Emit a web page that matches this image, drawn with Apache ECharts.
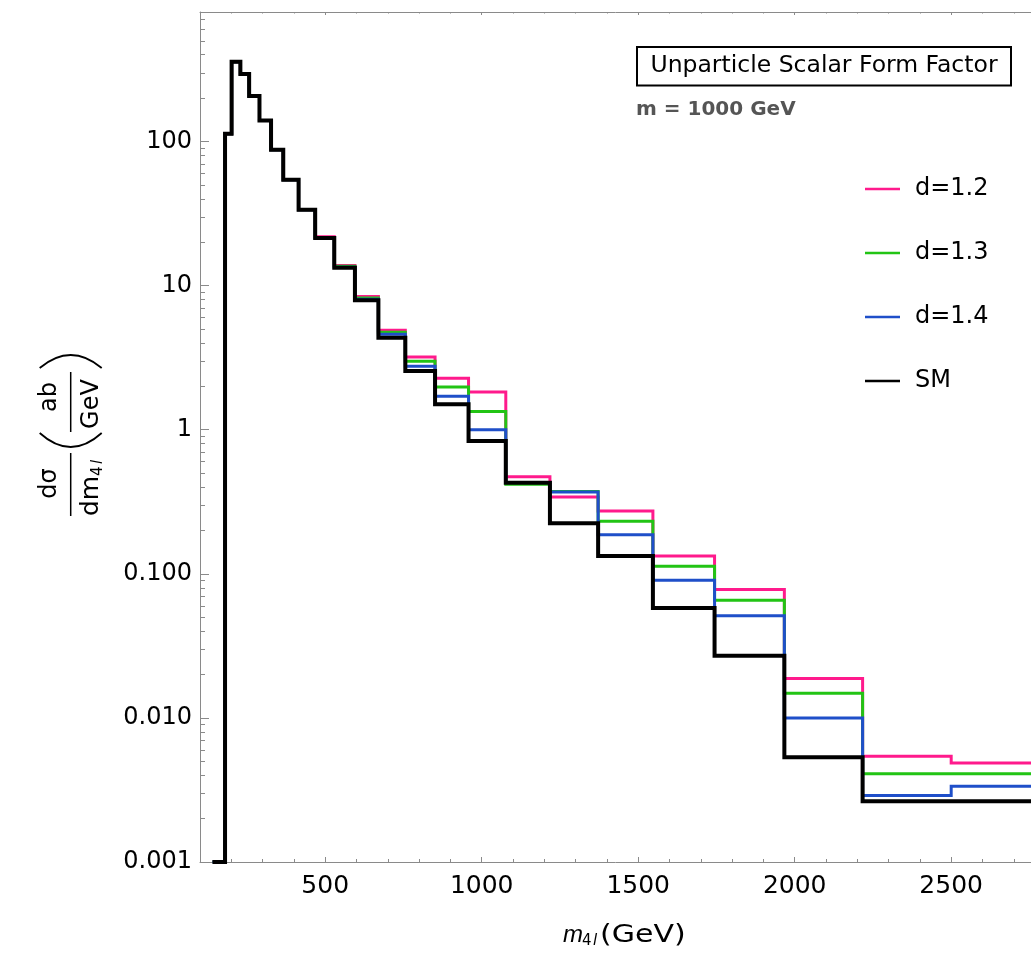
<!DOCTYPE html>
<html>
<head>
<meta charset="utf-8">
<script src="https://cdn.jsdelivr.net/npm/echarts@6/dist/echarts.min.js"></script>
<style>
html,body{margin:0;padding:0;background:#fff;}
#chart{width:1031px;height:957px;}
</style>
</head>
<body>
<div id="chart"></div>
<script>
// ---- data ----
const binEdges = [140, 180, 201, 229, 257, 290, 327, 366, 415, 468, 529, 595, 670, 756, 851, 958, 1077, 1218, 1372, 1547, 1744, 1967, 2217, 2500, 2820];
const smValues  = [0.001, 113, 357, 294, 207, 140, 87.5, 54.3, 33.6, 21.4, 13.3, 7.9, 4.34, 2.55, 1.50, 0.834, 0.428, 0.224, 0.133, 0.058, 0.027, 0.00533, 0.00264, 0.00264];
const d12Values = [0.001, 113, 357, 294, 207, 140, 87.5, 54.3, 33.6, 21.8, 13.8, 8.4, 4.9, 3.19, 2.28, 1.83, 0.472, 0.341, 0.273, 0.133, 0.0778, 0.0188, 0.00542, 0.00486];
const d13Values = [0.001, 113, 357, 294, 207, 140, 87.5, 54.3, 33.6, 21.6, 13.6, 8.2, 4.75, 2.98, 1.98, 1.34, 0.418, 0.372, 0.232, 0.113, 0.0656, 0.0148, 0.0041, 0.0041];
const d14Values = [0.001, 113, 357, 294, 207, 140, 87.5, 54.3, 33.6, 21.4, 13.4, 8.05, 4.6, 2.76, 1.71, 1.0, 0.43, 0.370, 0.187, 0.0903, 0.0511, 0.00998, 0.00289, 0.00336];
const seriesNames = ['d=1.2', 'd=1.3', 'd=1.4', 'SM'];
const xTickValues = [500, 1000, 1500, 2000, 2500];
const xTickLabels = ['500', '1000', '1500', '2000', '2500'];
const xMinorValues = [200, 300, 400, 600, 700, 800, 900, 1100, 1200, 1300, 1400, 1600, 1700, 1800, 1900, 2100, 2200, 2300, 2400, 2600, 2700];
const yTickValues = [0.001, 0.01, 0.1, 1, 10, 100];
const yTickLabels = ['0.001', '0.010', '0.100', '1', '10', '100'];
const yMinorValues = [];
[0.001, 0.01, 0.1, 1, 10, 100].forEach(function (p) { for (let k = 2; k <= 9; k++) yMinorValues.push(+(p * k).toPrecision(3)); });

// ---- build step data ----
function stepData(vals) {
  const out = [];
  for (let i = 0; i < vals.length; i++) out.push([binEdges[i], vals[i]]);
  out.push([binEdges[vals.length], vals[vals.length - 1]]);
  return out;
}

const FONT = 'DejaVu Sans';
const axisColor = '#8a8a8a';
const colors = ['#ff1a8c', '#22c414', '#1f4fc9', '#000000'];
const XMIN = 100, XMAX = 2755, YMIN = 0.001, YMAX = 792;

const chart = echarts.init(document.getElementById('chart'), null, {renderer: 'canvas'});

function xAxisDef(pos, major, showLine) {
  return {
    type: 'value', min: XMIN, max: XMAX, position: pos,
    axisLine: {show: showLine, onZero: false, lineStyle: {color: axisColor, width: 1}},
    axisTick: {show: true, inside: true, length: major ? (pos === 'top' ? 3 : 5) : (pos === 'top' ? 1.5 : 3),
      customValues: major ? xTickValues : xMinorValues, lineStyle: {color: axisColor, width: 1}},
    axisLabel: {show: pos === 'bottom' && major, customValues: xTickValues, margin: 12,
      fontSize: 25, fontFamily: FONT, color: '#000',
      formatter: function (v) { const i = xTickValues.indexOf(Math.round(v)); return i >= 0 ? xTickLabels[i] : ''; }},
    splitLine: {show: false}
  };
}

function yAxisDef(major) {
  return {
    type: 'log', logBase: 10, min: YMIN, max: YMAX, position: 'left',
    axisLine: {show: major, onZero: false, lineStyle: {color: axisColor, width: 1}},
    axisTick: {show: true, inside: true, length: major ? 9 : 5,
      customValues: major ? yTickValues : yMinorValues, lineStyle: {color: axisColor, width: 1}},
    axisLabel: {show: major, customValues: yTickValues, margin: 8, fontSize: 24, fontFamily: FONT, color: '#000',
      formatter: function (v) { const k = Math.round(Math.log10(v)) + 3; return yTickLabels[k] || ''; }},
    splitLine: {show: false}, minorTick: {show: false}
  };
}

const allValues = [d12Values, d13Values, d14Values, smValues];
const series = allValues.map(function (vals, i) {
  return {
    name: seriesNames[i], type: 'line', step: 'end', xAxisIndex: 0, yAxisIndex: 0,
    data: stepData(vals), symbol: 'none', clip: true,
    lineStyle: {color: colors[i], width: i === 3 ? 4 : 3, join: 'miter', cap: 'butt'},
    itemStyle: {color: colors[i]}, z: 2 + i
  };
});

const option = {
  animation: false,
  backgroundColor: '#fff',
  grid: {left: 200, right: 0, top: 12, bottom: 95},
  xAxis: [xAxisDef('bottom', true, true), xAxisDef('bottom', false, false), xAxisDef('top', true, true), xAxisDef('top', false, false)],
  yAxis: [yAxisDef(true), yAxisDef(false)],
  legend: {
    show: true, orient: 'vertical', left: 860, top: 172, itemWidth: 35, itemHeight: 2.5, itemGap: 40,
    icon: 'rect',
    textStyle: {fontSize: 24, fontFamily: FONT, color: '#000', lineHeight: 24, padding: [0, 0, 0, 10]},
    data: seriesNames
  },
  series: series,
  graphic: [
    {type: 'rect', shape: {x: 637, y: 47, width: 374, height: 38.5}, style: {fill: '#fff', stroke: '#000', lineWidth: 2}, z: 100},
    {type: 'text', x: 824, y: 65.5, z: 101, style: {text: 'Unparticle Scalar Form Factor', fontSize: 23.5, fontFamily: FONT, fill: '#000', align: 'center', verticalAlign: 'middle'}},
    {type: 'text', x: 636, y: 110, z: 101, style: {text: 'm = 1000 GeV', fontSize: 20, fontWeight: 'bold', fontFamily: FONT, fill: '#555', align: 'left', verticalAlign: 'middle'}},
    // x axis name
    {type: 'text', x: 563, y: 935, z: 101, style: {text: 'm', fontSize: 24, fontStyle: 'italic', fontFamily: 'Liberation Sans', fill: '#000', align: 'left', verticalAlign: 'middle'}},
    {type: 'text', x: 582, y: 941, z: 101, style: {text: '4', fontSize: 15, fontFamily: FONT, fill: '#000', align: 'left', verticalAlign: 'middle'}},
    {type: 'text', x: 593, y: 941, z: 101, style: {text: 'l', fontSize: 15, fontStyle: 'italic', fontFamily: FONT, fill: '#000', align: 'left', verticalAlign: 'middle'}},
    {type: 'text', x: 600, y: 935, scaleX: 1.2, z: 101, style: {text: '(GeV)', fontSize: 25, fontFamily: FONT, fill: '#000', align: 'left', verticalAlign: 'middle'}},
    // y axis name (rotated)
    {type: 'group', x: 70.7, y: 450, rotation: Math.PI / 2, z: 101, children: [
      {type: 'line', shape: {x1: -66, y1: 0, x2: -3, y2: 0}, style: {stroke: '#000', lineWidth: 1.5}},
      {type: 'text', x: -33.5, y: -21, style: {text: 'dσ', fontSize: 24, fontFamily: FONT, fill: '#000', align: 'center', verticalAlign: 'middle'}},
      {type: 'text', x: -66, y: 21, style: {text: 'dm', fontSize: 25, fontFamily: FONT, fill: '#000', align: 'left', verticalAlign: 'middle'}},
      {type: 'text', x: -26, y: 27, style: {text: '4', fontSize: 15, fontFamily: FONT, fill: '#000', align: 'left', verticalAlign: 'middle'}},
      {type: 'text', x: -14, y: 27, style: {text: 'l', fontSize: 15, fontStyle: 'italic', fontFamily: FONT, fill: '#000', align: 'left', verticalAlign: 'middle'}},
      {type: 'bezierCurve', shape: {x1: 17, y1: -31, x2: 17, y2: 31, cpx1: -11, cpy1: 0}, style: {stroke: '#000', lineWidth: 1.8, fill: null}},
      {type: 'text', x: 53, y: -21, style: {text: 'ab', fontSize: 24, fontFamily: FONT, fill: '#000', align: 'center', verticalAlign: 'middle'}},
      {type: 'line', shape: {x1: 18, y1: 0, x2: 78, y2: 0}, style: {stroke: '#000', lineWidth: 1.5}},
      {type: 'text', x: 46, y: 21, style: {text: 'GeV', fontSize: 24, fontFamily: FONT, fill: '#000', align: 'center', verticalAlign: 'middle'}},
      {type: 'bezierCurve', shape: {x1: 82, y1: -31, x2: 82, y2: 31, cpx1: 108, cpy1: 0}, style: {stroke: '#000', lineWidth: 1.8, fill: null}}
    ]}
  ]
};
chart.setOption(option);
</script>
</body>
</html>
